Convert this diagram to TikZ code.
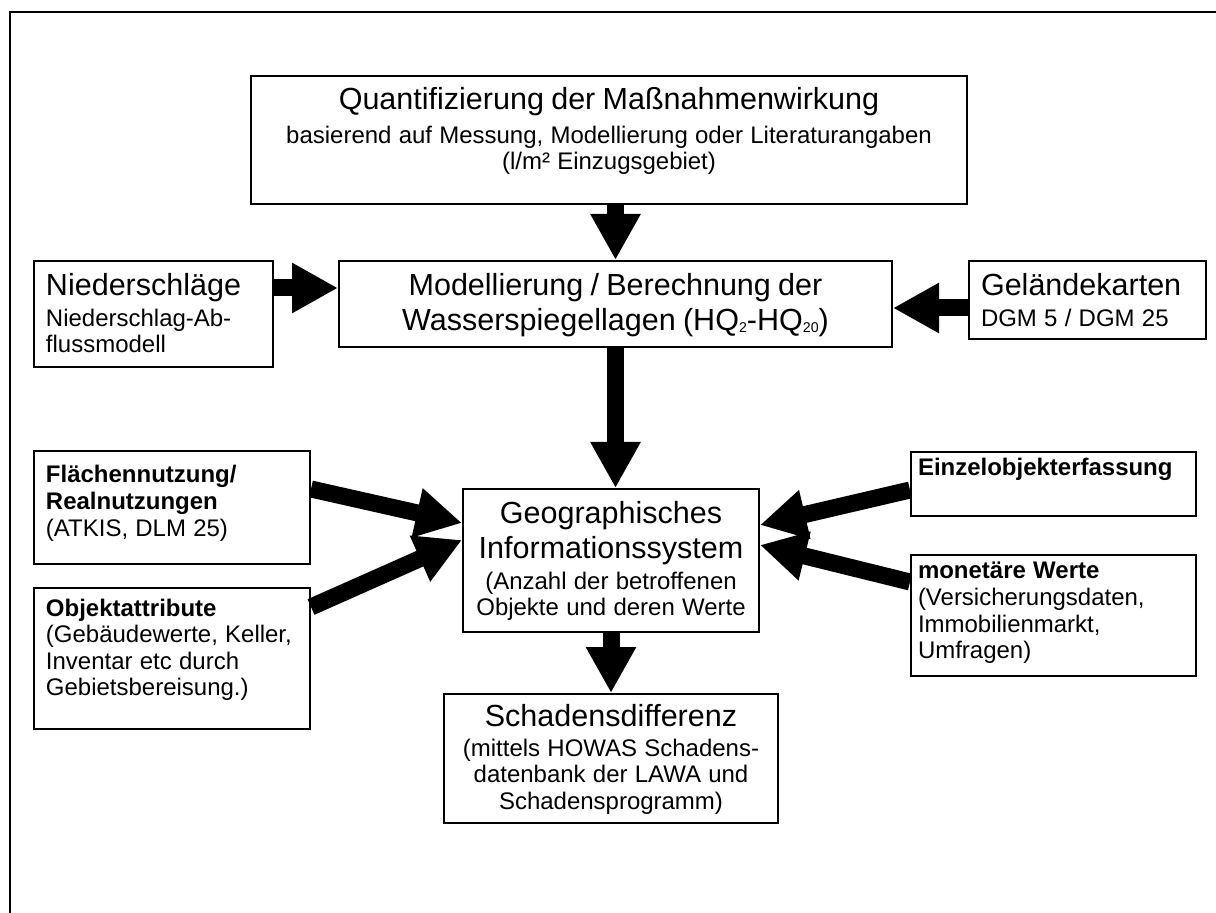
\documentclass[tikz,border=0pt]{standalone}
\usepackage{fontspec}
\setmainfont{Liberation Sans}
\usepackage{tikz}
\usetikzlibrary{arrows.meta}

\newdimen\pxu
\pxu=0.4587pt
\newcommand{\grossschrift}{\fontsize{14pt}{16.05pt}\selectfont}
\newcommand{\kleinschrift}{\fontsize{11pt}{12.2pt}\selectfont}
\newcommand{\tief}[1]{\raisebox{-0.8pt}{\fontsize{6.5pt}{7pt}\selectfont #1}}

\begin{document}
\begin{tikzpicture}[
  x=\pxu, y=-\pxu,
  every node/.style={draw, line width=2\pxu, inner sep=0pt, anchor=north west},
  mitte/.style={align=center, text width=#1},
  links/.style={align=left, inner xsep=12\pxu, text width=#1},
  rechts/.style={align=left, inner xsep=7\pxu, text width=#1},
  hoehe/.style 2 args={text height=#1\pxu, text depth=#2\pxu},
  pfeil/.style={line width=17\pxu, line cap=butt,
    -{Triangle[length=21.1pt 0 0, width=21.6pt 0 0]}}
]
  \useasboundingbox (0,0) rectangle (1216,913);
  \draw[line width=2\pxu] (10,913) -- (10,12) -- (1216,12);

  \node[mitte=716\pxu, hoehe={34}{94}] (quant) at (250,75)
    {{\grossschrift Quantifizierung der Maßnahmenwirkung\par}\vspace{3pt}%
     {\kleinschrift basierend auf Messung, Modellierung oder Literaturangaben\\(l/m² Einzugsgebiet)\par}};
  \node[links=215\pxu, hoehe={35}{71}] (nied) at (33,260)
    {{\grossschrift Niederschläge\par}\vspace{1.6pt}%
     {\kleinschrift Niederschlag-Ab-\\flussmodell\par}};
  \node[mitte=553\pxu, hoehe={35}{51}] (model) at (338,260)
    {{\grossschrift Modellierung / Berechnung der\\Wasserspiegellagen (HQ\tief{2}-HQ\tief{20})\par}};
  \node[links=213\pxu, hoehe={35}{43}] (gelaende) at (968,260)
    {{\grossschrift Geländekarten\par}\vspace{1.6pt}%
     {\kleinschrift DGM 5 / DGM 25\par}};
  \node[mitte=296\pxu, hoehe={35}{108}] (gis) at (462,488)
    {{\grossschrift Geographisches\\Informationssystem\par}\vspace{1.6pt}%
     {\kleinschrift (Anzahl der betroffenen\\Objekte und deren Werte\par}};
  \node[links=252\pxu, hoehe={32}{81}] (flaeche) at (33,450)
    {{\kleinschrift\textbf{Flächennutzung/}\\\textbf{Realnutzungen}\\(ATKIS, DLM 25)\par}};
  \node[links=252\pxu, hoehe={28}{113}] (objekt) at (33,587)
    {{\kleinschrift\textbf{Objektattribute}\\(Gebäudewerte, Keller,\\Inventar etc durch\\Gebietsbereisung.)\par}};
  \node[rechts=271\pxu, hoehe={24}{40}] (einzel) at (910,451)
    {{\kleinschrift\textbf{Einzelobjekterfassung}\par}};
  \node[rechts=271\pxu, hoehe={24}{97}] (werte) at (910,554)
    {{\kleinschrift\textbf{monetäre Werte}\\(Versicherungsdaten,\\Immobilienmarkt,\\Umfragen)\par}};
  \node[mitte=334\pxu, hoehe={32}{97}] (schaden) at (443,693)
    {{\grossschrift Schadensdifferenz\par}\vspace{1.6pt}%
     {\kleinschrift (mittels HOWAS Schadens-\\datenbank der LAWA und\\Schadensprogramm)\par}};

  % Pfeile
  \draw[pfeil] (model.north |- quant.south) -- (model.north);
  \draw[pfeil] ([yshift=-28\pxu]nied.north east) -- ([yshift=-28\pxu]model.north west);
  \draw[pfeil] ([yshift=-48\pxu]gelaende.north west) -- ([yshift=-48\pxu]model.north east);
  \draw[pfeil] (model.south) -- (model.south |- gis.north);
  \draw[pfeil] ([yshift=-39\pxu]flaeche.north east) -- ([yshift=-35\pxu]gis.north west);
  \draw[pfeil] ([yshift=-20\pxu]objekt.north east) -- ([yshift=-52\pxu]gis.north west);
  \draw[pfeil] ([yshift=-39\pxu]einzel.north west) -- ([yshift=-37\pxu]gis.north east);
  \draw[pfeil] ([yshift=-28\pxu]werte.north west) -- ([yshift=-57\pxu]gis.north east);
  \draw[pfeil] (gis.south) -- (schaden.north);
\end{tikzpicture}
\end{document}
